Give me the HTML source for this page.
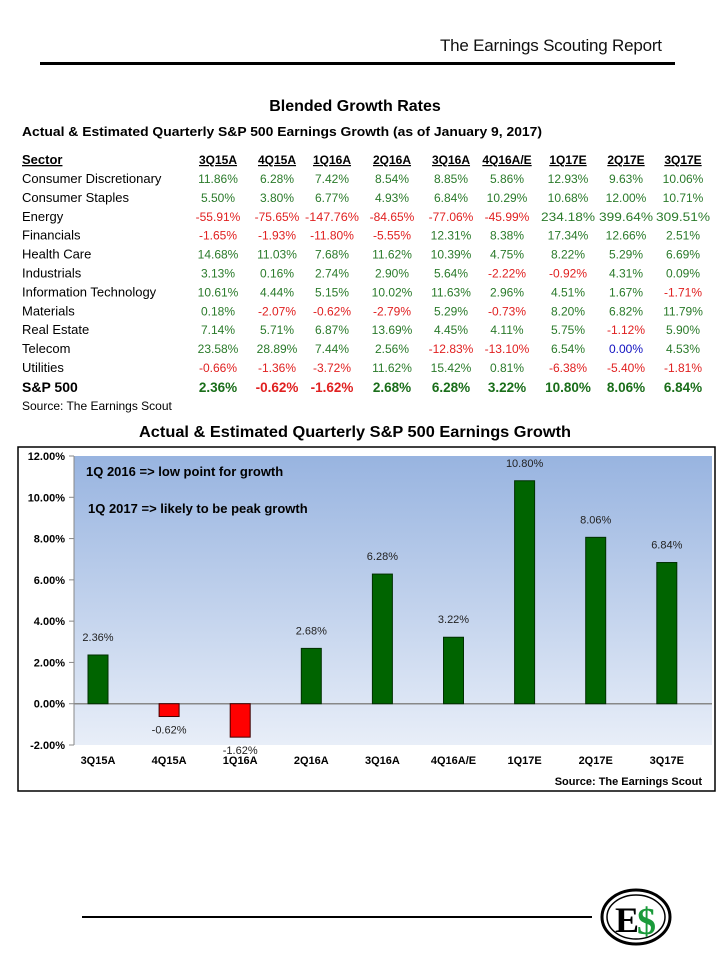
<!DOCTYPE html>
<html><head><meta charset="utf-8"><style>
body{margin:0;background:#fff;width:720px;height:960px;overflow:hidden;font-family:"Liberation Sans",sans-serif}
svg{position:absolute;left:0;top:0}
</style></head><body>
<svg id="s" width="720" height="960" xmlns="http://www.w3.org/2000/svg" font-family="Liberation Sans, sans-serif">
<defs><linearGradient id="g" x1="0" y1="0" x2="0" y2="1"><stop offset="0" stop-color="#98b4e0"/><stop offset="1" stop-color="#e8eef8"/></linearGradient></defs>
<text x="662" y="51" font-size="17" text-anchor="end" fill="#111" textLength="222">The Earnings Scouting Report</text>
<rect x="40" y="62" width="635" height="3" fill="#000"/>
<text x="355" y="111" font-size="16" font-weight="bold" text-anchor="middle">Blended Growth Rates</text>
<text x="22" y="136" font-size="13" font-weight="bold" textLength="520" lengthAdjust="spacingAndGlyphs">Actual &amp; Estimated Quarterly S&amp;P 500 Earnings Growth (as of January 9, 2017)</text>
<g id="tbl"></g>
<text x="355" y="437" font-size="16" font-weight="bold" text-anchor="middle" textLength="432" lengthAdjust="spacingAndGlyphs">Actual &amp; Estimated Quarterly S&amp;P 500 Earnings Growth</text>
<rect x="18" y="447" width="697" height="344" fill="#fff" stroke="#000" stroke-width="1.5"/>
<g id="chart"></g>
<text x="702" y="785" font-size="11" font-weight="bold" text-anchor="end">Source: The Earnings Scout</text>
<rect x="82" y="916" width="510" height="2" fill="#000"/>
<g>
<ellipse cx="636" cy="917" rx="34" ry="27" fill="#fff" stroke="#000" stroke-width="3"/>
<ellipse cx="636" cy="917" rx="29" ry="22" fill="none" stroke="#000" stroke-width="1.5"/>
<text x="615" y="932" font-size="36" font-weight="bold" font-family="Liberation Serif, serif">E</text>
<text x="637" y="934" font-size="38" font-weight="bold" fill="#1a9a3a" font-family="Liberation Serif, serif">$</text>
</g>
</svg>
<script>
const NS='http://www.w3.org/2000/svg';
function mk(tag,attrs,parent,txt){const e=document.createElementNS(NS,tag);for(const k in attrs)e.setAttribute(k,attrs[k]);if(txt!==undefined)e.textContent=txt;parent.appendChild(e);return e;}
// ---- table data ----
const quarters=['3Q15A','4Q15A','1Q16A','2Q16A','3Q16A','4Q16A/E','1Q17E','2Q17E','3Q17E'];
const sectors=['Consumer Discretionary','Consumer Staples','Energy','Financials','Health Care','Industrials','Information Technology','Materials','Real Estate','Telecom','Utilities','S&P 500'];
const tableValues=[
[11.86,6.28,7.42,8.54,8.85,5.86,12.93,9.63,10.06],
[5.50,3.80,6.77,4.93,6.84,10.29,10.68,12.00,10.71],
[-55.91,-75.65,-147.76,-84.65,-77.06,-45.99,234.18,399.64,309.51],
[-1.65,-1.93,-11.80,-5.55,12.31,8.38,17.34,12.66,2.51],
[14.68,11.03,7.68,11.62,10.39,4.75,8.22,5.29,6.69],
[3.13,0.16,2.74,2.90,5.64,-2.22,-0.92,4.31,0.09],
[10.61,4.44,5.15,10.02,11.63,2.96,4.51,1.67,-1.71],
[0.18,-2.07,-0.62,-2.79,5.29,-0.73,8.20,6.82,11.79],
[7.14,5.71,6.87,13.69,4.45,4.11,5.75,-1.12,5.90],
[23.58,28.89,7.44,2.56,-12.83,-13.10,6.54,0.00,4.53],
[-0.66,-1.36,-3.72,11.62,15.42,0.81,-6.38,-5.40,-1.81],
[2.36,-0.62,-1.62,2.68,6.28,3.22,10.80,8.06,6.84]];
const colX=[218,277,332,392,451,507,568,626,683];
const tbl=document.getElementById('tbl');
let h=mk('text',{x:22,y:164,'font-size':13,'font-weight':'bold','text-decoration':'underline'},tbl,'Sector');


quarters.forEach((q,i)=>{const t=mk('text',{x:colX[i],y:164,'font-size':12,'font-weight':'bold','text-anchor':'middle','text-decoration':'underline'},tbl,q);

});
sectors.forEach((s,r)=>{const y=183+r*18.9;const last=r===sectors.length-1;
const l=mk('text',{x:22,y:y+(last?1:0),'font-size':last?14:13,'font-weight':last?'bold':'normal'},tbl,s);


tableValues[r].forEach((v,i)=>{const col=v<0?'#e02020':(v===0?'#1010c0':'#2a7a2a');
const t=mk('text',{x:colX[i],y:y+(last?1:0),'font-size':last?13.5:12,'font-weight':last?'bold':'normal','text-anchor':'middle',fill:last?(v<0?'#e02020':'#1a6e1a'):col},tbl,v.toFixed(2)+'%');
if(Math.abs(v)>=100){t.setAttribute('textLength',54);t.setAttribute('lengthAdjust','spacingAndGlyphs');}

});});
const src=mk('text',{x:22,y:410,'font-size':12},tbl,'Source: The Earnings Scout');


// ---- chart data ----
const categories=['3Q15A','4Q15A','1Q16A','2Q16A','3Q16A','4Q16A/E','1Q17E','2Q17E','3Q17E'];
const growth=[2.36,-0.62,-1.62,2.68,6.28,3.22,10.80,8.06,6.84];
const yTicks=[12,10,8,6,4,2,0,-2];
const ch=document.getElementById('chart');
const L=74,R=712,T=456,B=745,yMax=12,yMin=-2;
const ys=v=>T+(yMax-v)/(yMax-yMin)*(B-T);
const band=71.1;
const xs=i=>98+band*i;
const bg=mk('rect',{x:L,y:T,width:R-L,height:B-T,fill:'url(#g)'},ch);


mk('line',{x1:L,y1:T,x2:L,y2:B,stroke:'#888'},ch);
yTicks.forEach(v=>{const y=ys(v);mk('line',{x1:L-5,y1:y,x2:L,y2:y,stroke:'#888'},ch);
const t=mk('text',{x:L-9,y:y+4,'font-size':11,'font-weight':'bold','text-anchor':'end'},ch,v.toFixed(2)+'%');

});
mk('line',{x1:L,y1:ys(0),x2:R,y2:ys(0),stroke:'#888','stroke-width':1.5},ch);
categories.forEach((c,i)=>{const v=growth[i];const cx=xs(i);const y0=ys(0),y1=ys(v);
const b=mk('rect',{x:cx-10,y:Math.min(y0,y1),width:20,height:Math.abs(y1-y0),fill:v<0?'#ff0000':'#006400',stroke:v<0?'#400000':'#003000','stroke-width':1},ch);


const ly=v<0?y1+17:y1-14;
const t=mk('text',{x:cx,y:ly,'font-size':11,'text-anchor':'middle',fill:'#222'},ch,v.toFixed(2)+'%');


const xl=mk('text',{x:cx,y:764,'font-size':11,'font-weight':'bold','text-anchor':'middle'},ch,c);

});
const a1=mk('text',{x:86,y:476,'font-size':13,'font-weight':'bold'},ch,'1Q 2016 => low point for growth');


const a2=mk('text',{x:88,y:513,'font-size':13,'font-weight':'bold'},ch,'1Q 2017 => likely to be peak growth');


</script>
</body></html>
